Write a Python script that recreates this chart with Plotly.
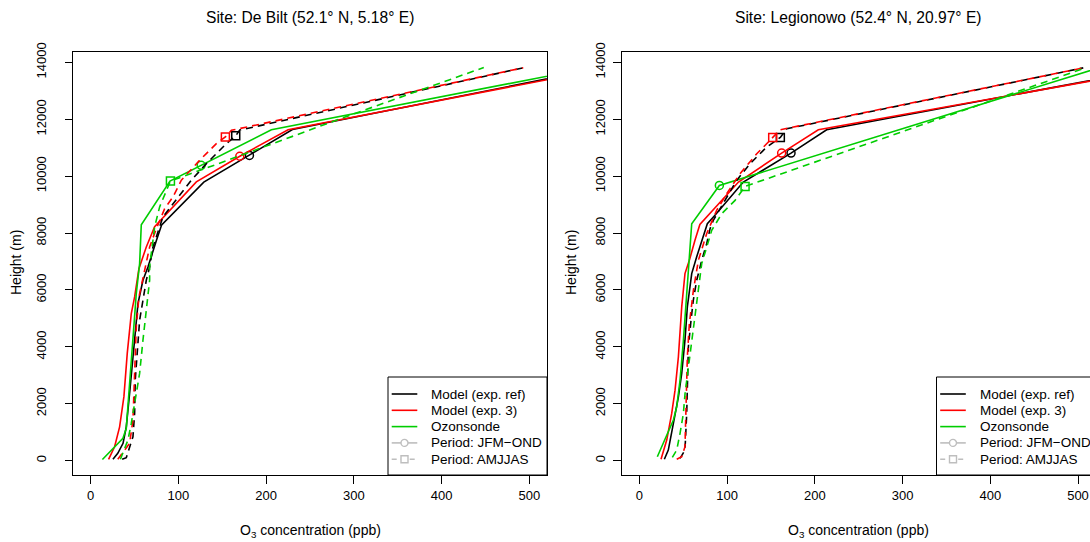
import plotly.graph_objects as go

# ---- De Bilt (52.1 N, 5.18 E) : O3 (ppb) and height (m) ----
debilt_ref_jfm_o3 = [25.5, 31, 37, 40.7, 44.5, 49.4, 54, 59.7, 65.4, 75, 81, 129, 181, 230, 582]
debilt_ref_jfm_z = [49, 260, 610, 1190, 2370, 4000, 5520, 6340, 6810, 7740, 8290, 9790, 10730, 11640, 13800]
debilt_ref_jfm_mark = 12

debilt_exp3_jfm_o3 = [20.5, 27.4, 33.1, 38, 41.8, 46.4, 50.2, 55.1, 63.5, 73, 120.5, 170, 225, 589]
debilt_exp3_jfm_z = [49, 490, 1190, 2250, 3770, 5170, 5755, 6750, 7510, 8220, 9800, 10700, 11630, 13800]
debilt_exp3_jfm_mark = 11

debilt_sonde_jfm_o3 = [13.5, 23.6, 36.9, 40.7, 44.5, 48.3, 52.1, 55.9, 57.8, 90.5, 126, 206, 568]
debilt_sonde_jfm_z = [40, 375, 786, 1137, 2832, 4235, 5874, 6927, 8290, 9830, 10380, 11630, 13800]
debilt_sonde_jfm_mark = 10

debilt_ref_amj_o3 = [36, 40.7, 48.3, 50.2, 50.9, 53.2, 55.9, 59.7, 63.5, 67.3, 71.1, 82.5, 93.9,
                     114.8, 132, 154.8, 165.4, 170, 493]
debilt_ref_amj_z = [49, 105, 842, 1663, 2832, 4000, 4936, 5640, 6341, 6808, 7515, 8569, 9037,
                    9857, 10442, 11144, 11420, 11620, 13810]
debilt_ref_amj_mark = 16

debilt_exp3_amj_o3 = [31, 44.5, 48.3, 49.4, 50.2, 52.1, 55.1, 59.7, 63.5, 67.3, 74.9, 84.4, 93.9,
                      103.4, 124.3, 143.3, 153.6, 160.5, 493]
debilt_exp3_amj_z = [49, 610, 1430, 2365, 3535, 4703, 5755, 6460, 7050, 7510, 8150, 8856, 9271,
                     9857, 10559, 11144, 11378, 11612, 13810]
debilt_exp3_amj_mark = 16

debilt_sonde_amj_o3 = [34, 38, 42.6, 46.4, 52.9, 55.9, 59.7, 64.3, 67.3, 67.3, 73, 78.7, 86.3,
                       91, 135, 290, 448]
debilt_sonde_amj_z = [49, 400, 726, 1311, 2482, 3067, 4238, 5408, 6345, 6813, 8218, 8920, 9505,
                      9830, 10320, 12080, 13820]
debilt_sonde_amj_mark = 13

# ---- Legionowo (52.4 N, 20.97 E) ----
legio_ref_jfm_o3 = [28.5, 33, 38.8, 44.5, 48.3, 52, 54.7, 59.7, 65.3, 71, 77.5, 86.2, 118.5, 172.9, 213.5, 590]
legio_ref_jfm_z = [49, 374, 1310, 2246, 3065, 4235, 5405, 6575, 7160, 7745, 8330, 8623, 9793, 10811, 11630, 13800]
legio_ref_jfm_mark = 13

legio_exp3_jfm_o3 = [24.7, 31.2, 36.9, 40.7, 44.5, 48.3, 52, 57, 63.4, 69, 113, 162.2, 204, 597]
legio_exp3_jfm_z = [49, 725, 1661, 2480, 3650, 5405, 6575, 7043, 7745, 8300, 9793, 10811, 11630, 13800]
legio_exp3_jfm_mark = 11

legio_sonde_jfm_o3 = [20.5, 25.5, 31.2, 38.8, 42.6, 46.4, 50.2, 52.9, 55.9, 59.7, 91.2, 523]
legio_sonde_jfm_z = [140, 491, 842, 1428, 1895, 2832, 4224, 5404, 6808, 8330, 9674, 13800]
legio_sonde_jfm_mark = 10

legio_ref_amj_o3 = [46.4, 52, 54, 55.2, 55.9, 58.9, 61.5, 65.4, 71.1, 76.8, 80.6, 84.3, 97.6,
                    110.9, 126.1, 145.1, 160.7, 168, 506]
legio_ref_amj_z = [84, 374, 1663, 2832, 4000, 4937, 5639, 6341, 7043, 7628, 8154, 8447, 9149,
                   9851, 10436, 11021, 11361, 11664, 13806]
legio_ref_amj_mark = 16

legio_exp3_amj_o3 = [42.6, 48.3, 52, 53.2, 54.7, 57, 61.6, 67.3, 76.7, 88.1, 99.5, 114.7, 133.8,
                     145.1, 152, 160.3, 506]
legio_exp3_amj_z = [49, 140, 491, 1895, 3650, 4820, 5990, 7043, 7979, 8798, 9383, 10085, 10787,
                    11138, 11361, 11630, 13806]
legio_exp3_amj_mark = 14

legio_sonde_amj_o3 = [37.6, 42.6, 46.4, 50.2, 52.1, 55.9, 59.7, 63.5, 67.2, 71.1, 76.8, 82.5, 93.9,
                      109.1, 120.5, 508]
legio_sonde_amj_z = [118, 375, 961, 1663, 2365, 3299, 4119, 5172, 6106, 6926, 7509, 8095, 8681,
                     9148, 9639, 13800]
legio_sonde_amj_mark = 14

site_titles = ["Site: De Bilt (52.1° N, 5.18° E)", "Site: Legionowo (52.4° N, 20.97° E)"]
legend_labels = ["Model (exp. ref)", "Model (exp. 3)", "Ozonsonde", "Period: JFM−OND", "Period: AMJJAS"]
x_ticks = [0, 100, 200, 300, 400, 500]
y_ticks = [0, 2000, 4000, 6000, 8000, 10000, 12000, 14000]
y_tick_labels = [str(v) for v in y_ticks]

BLACK, RED, GREEN, GREY = "#000000", "#FF0000", "#00CD00", "#BEBEBE"
FONT = "Liberation Sans, Arial, Helvetica, sans-serif"

# pixel layout
W, H = 1090, 542
ML, MT, MB = 73, 52, 67
PW, PH = W - ML, H - MT - MB
BOTTOM = H - MB


def fx(px):
    return (px - ML) / PW


def fy(py):
    return (BOTTOM - py) / PH


panels = [(73, 547), (621.8, 1095.5)]  # pixel extents of the two plot boxes
ytitle_x = [16, 571]

series = [
    (1, debilt_ref_jfm_o3, debilt_ref_jfm_z, debilt_ref_jfm_mark, BLACK, "solid", "circle-open"),
    (1, debilt_exp3_jfm_o3, debilt_exp3_jfm_z, debilt_exp3_jfm_mark, RED, "solid", "circle-open"),
    (1, debilt_sonde_jfm_o3, debilt_sonde_jfm_z, debilt_sonde_jfm_mark, GREEN, "solid", "circle-open"),
    (1, debilt_ref_amj_o3, debilt_ref_amj_z, debilt_ref_amj_mark, BLACK, "7px,5px", "square-open"),
    (1, debilt_exp3_amj_o3, debilt_exp3_amj_z, debilt_exp3_amj_mark, RED, "7px,5px", "square-open"),
    (1, debilt_sonde_amj_o3, debilt_sonde_amj_z, debilt_sonde_amj_mark, GREEN, "7px,5px", "square-open"),
    (2, legio_ref_jfm_o3, legio_ref_jfm_z, legio_ref_jfm_mark, BLACK, "solid", "circle-open"),
    (2, legio_exp3_jfm_o3, legio_exp3_jfm_z, legio_exp3_jfm_mark, RED, "solid", "circle-open"),
    (2, legio_sonde_jfm_o3, legio_sonde_jfm_z, legio_sonde_jfm_mark, GREEN, "solid", "circle-open"),
    (2, legio_ref_amj_o3, legio_ref_amj_z, legio_ref_amj_mark, BLACK, "7px,5px", "square-open"),
    (2, legio_exp3_amj_o3, legio_exp3_amj_z, legio_exp3_amj_mark, RED, "7px,5px", "square-open"),
    (2, legio_sonde_amj_o3, legio_sonde_amj_z, legio_sonde_amj_mark, GREEN, "7px,5px", "square-open"),
]

fig = go.Figure()
for panel, o3, z, mark, color, dash, symbol in series:
    xa = "x" if panel == 1 else "x2"
    ya = "y" if panel == 1 else "y2"
    fig.add_trace(go.Scatter(x=o3, y=z, mode="lines", xaxis=xa, yaxis=ya,
                             line=dict(color=color, width=1.6, dash=dash),
                             showlegend=False, hoverinfo="skip"))
    fig.add_trace(go.Scatter(x=[o3[mark]], y=[z[mark]], mode="markers", xaxis=xa, yaxis=ya,
                             marker=dict(symbol=symbol, size=8, color=color, line=dict(width=1.5)),
                             showlegend=False, hoverinfo="skip"))

axis_common = dict(showgrid=False, zeroline=False, showline=True, linecolor="black", linewidth=1,
                   ticks="outside", tickcolor="black", tickwidth=1, automargin=False,
                   tickfont=dict(family=FONT, size=13, color="black"))

fig.update_layout(
    width=W, height=H, margin=dict(l=ML, r=0, t=MT, b=MB, autoexpand=False),
    paper_bgcolor="white", plot_bgcolor="white",
    font=dict(family=FONT, size=13, color="black"),
    xaxis=dict(domain=[0, fx(panels[0][1])], range=[-20, 520], tickvals=x_ticks, ticklen=8,
               mirror=True, anchor="y", **axis_common),
    yaxis=dict(domain=[0, 1], range=[-503, 14364], tickvals=y_ticks, ticktext=y_tick_labels,
               ticklen=7, tickangle=-90, ticklabelstandoff=14, mirror=True, anchor="x", **axis_common),
    xaxis2=dict(domain=[fx(panels[1][0]), 1], range=[-20, (W - 639.3) / 0.8774], tickvals=x_ticks,
                ticklen=8, mirror=True, anchor="y2", **axis_common),
    yaxis2=dict(domain=[0, 1], range=[-503, 14364], tickvals=y_ticks, ticktext=y_tick_labels,
                ticklen=8, tickangle=-90, ticklabelstandoff=3, anchor="x2", **axis_common),
)

shapes = []
annotations = []
leg_w, leg_top = 159, 377
row_off = [17, 33.3, 49.6, 65.9, 82.2]
sample_colors = [BLACK, RED, GREEN, GREY, GREY]
sample_dash = ["solid", "solid", "solid", "solid", "5px,4px"]

for i, (x0, x1) in enumerate(panels):
    cx = (x0 + x1) / 2
    annotations.append(dict(text=site_titles[i], x=fx(cx), y=fy(17), xref="paper", yref="paper",
                            showarrow=False, xanchor="center", yanchor="middle",
                            font=dict(size=15.6)))
    annotations.append(dict(text="O<sub>3</sub> concentration (ppb)", x=fx(cx), y=fy(531),
                            xref="paper", yref="paper", showarrow=False,
                            xanchor="center", yanchor="middle", font=dict(size=14)))
    annotations.append(dict(text="Height (m)", x=fx(ytitle_x[i]), y=fy(263), xref="paper", yref="paper",
                            showarrow=False, textangle=-90, xanchor="center", yanchor="middle",
                            font=dict(size=14)))
    # legend box (bottom right of each panel)
    lx = x1 - leg_w
    shapes.append(dict(type="rect", xref="paper", yref="paper", x0=fx(lx), x1=fx(x1),
                       y0=fy(BOTTOM), y1=fy(leg_top), line=dict(color="black", width=1),
                       fillcolor="white", layer="above"))
    for k, lab in enumerate(legend_labels):
        ry = leg_top + row_off[k]
        shapes.append(dict(type="line", xref="paper", yref="paper", x0=fx(lx + 3.7), x1=fx(lx + 29.3),
                           y0=fy(ry), y1=fy(ry),
                           line=dict(color=sample_colors[k], width=1.6, dash=sample_dash[k]),
                           layer="above"))
        if k >= 3:
            mx = lx + 16.5
            shapes.append(dict(type="circle" if k == 3 else "rect", xref="paper", yref="paper",
                               x0=fx(mx - 3.5), x1=fx(mx + 3.5), y0=fy(ry + 3.5), y1=fy(ry - 3.5),
                               line=dict(color=GREY, width=1.4), fillcolor="white", layer="above"))
        annotations.append(dict(text=lab, x=fx(lx + 41.3), y=fy(ry), xref="paper", yref="paper",
                                showarrow=False, xanchor="left", yanchor="middle",
                                font=dict(size=13.5)))

fig.update_layout(shapes=shapes, annotations=annotations)

# drop the browser's default 8px body margin so the figure sits at the page corner
fig.write_html("out.html", config={"displayModeBar": False},
               post_script="document.body.style.margin='0';document.body.style.overflow='hidden';")
